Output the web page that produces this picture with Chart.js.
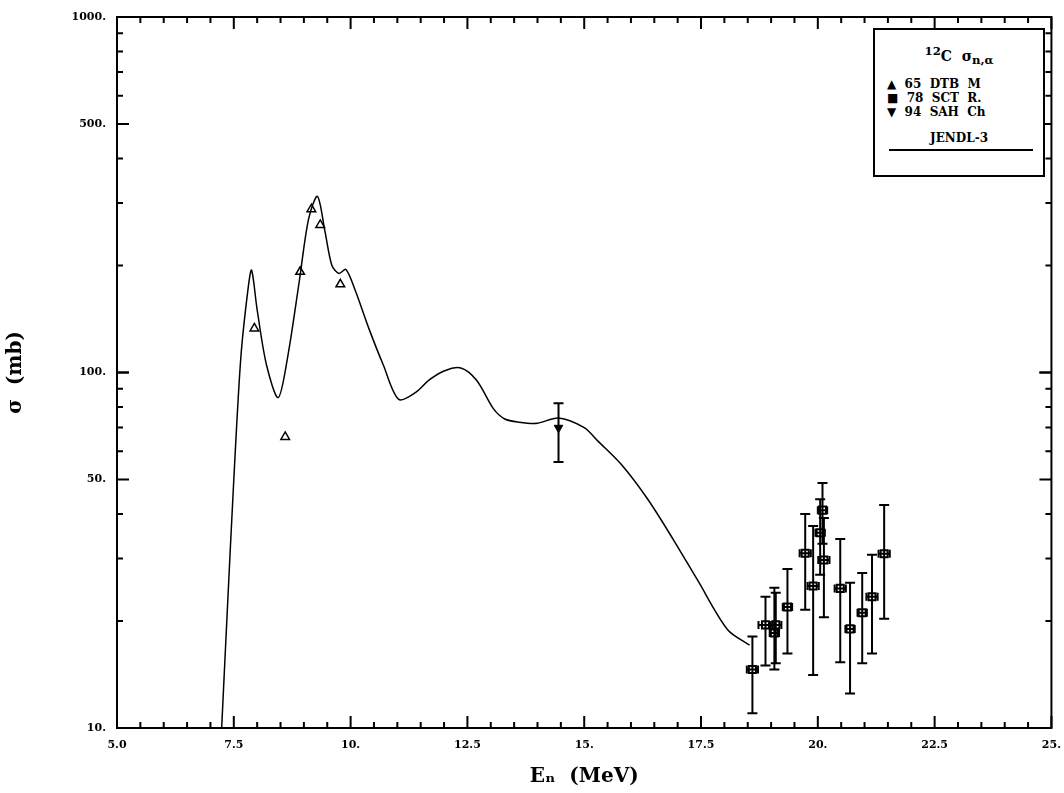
<!DOCTYPE html>
<html lang="en">
<head>
<meta charset="UTF-8">
<title>12C (n,a) cross section</title>
<script src="https://cdn.jsdelivr.net/npm/chart.js"></script>
<style>
  body { margin: 0; background: #fff; }
  .wrap { position: relative; width: 1064px; height: 793px; }
  .legend {
    position: absolute; left: 873px; top: 28px; width: 168px; height: 145px;
    border: 2px solid #000; background: #fff; font-family: "DejaVu Serif", serif;
    font-size: 12px; font-weight: bold; color: #000;
  }
  .legend .ttl { text-align: center; margin-top: 14px; font-size: 14px; }
  .legend .row { margin-left: 12px; line-height: 14px; white-space: pre; }
  .legend .jendl { text-align: center; margin-top: 12px; }
  .legend .line { margin: 4px 10px 0 14px; border-top: 2px solid #000; }
</style>
</head>
<body>
<div class="wrap">
  <canvas id="c" width="1064" height="793"></canvas>
  <div class="legend">
    <div class="ttl"><sup>12</sup>C &nbsp;σ<sub>n,α</sub></div>
    <div class="row" style="margin-top:10px">▲  65  DTB  M</div>
    <div class="row">■  78  SCT  R.</div>
    <div class="row">▼  94  SAH  Ch</div>
    <div class="jendl">JENDL-3</div>
    <div class="line"></div>
  </div>
</div>
<script>
// JENDL-3 evaluated curve
const curveE = [7.24, 7.35, 7.5, 7.65, 7.8, 7.88, 8.0, 8.2, 8.45, 8.65, 8.9, 9.1, 9.29, 9.45, 9.6, 9.75, 9.9, 10.1, 10.4, 10.7, 11.03, 11.4, 11.67, 12.0, 12.36, 12.7, 13.06, 13.3, 13.6, 14.0, 14.45, 15.0, 15.3, 15.8, 16.36, 16.9, 17.43, 18.07, 18.54];
const curveS = [10, 20, 50, 110, 170, 194, 150, 105, 85, 110, 180, 270, 313, 250, 200, 190, 195, 170, 132, 105, 84, 88, 95, 101, 103, 95, 79, 74, 72.5, 72, 74.5, 70, 64, 55, 44, 34, 26, 18.9, 17.1];

// 65 DTB M (triangles up)
const dtbE = [7.94, 8.6, 8.92, 9.16, 9.35, 9.78];
const dtbS = [133, 65.9, 192, 288, 260, 177];

// 94 SAH Ch (triangle down)
const sahE = [14.45];
const sahS = [69.9];
const sahLo = [56];
const sahHi = [82];

// 78 SCT R. (squares)
const sctE = [18.6, 18.88, 19.07, 19.1, 19.35, 19.73, 19.9, 20.1, 20.05, 20.13, 20.48, 20.69, 20.95, 21.16, 21.42];
const sctS = [14.6, 19.5, 18.5, 19.5, 21.9, 31, 25.1, 41, 35.4, 29.7, 24.7, 19.0, 21.1, 23.4, 30.9];
const sctLo = [11, 15, 14.6, 15.2, 16.2, 21.5, 14.1, 33, 27, 20.5, 15.3, 12.5, 15.2, 16.2, 20.3];
const sctHi = [18.1, 23.4, 24.8, 24, 28, 40, 37, 48.9, 44, 39, 34, 25.6, 27.3, 30.7, 42.4];
const sctDE = [0.12, 0.15, 0.1, 0.12, 0.1, 0.12, 0.12, 0.1, 0.1, 0.12, 0.12, 0.1, 0.1, 0.12, 0.12];

const xTicks = [5, 7.5, 10, 12.5, 15, 17.5, 20, 22.5, 25];
const xTickLabels = ['5.0', '7.5', '10.', '12.5', '15.', '17.5', '20.', '22.5', '25.'];
const yTicks = [10, 50, 100, 500, 1000];
const yTickLabels = ['10.', '50.', '100.', '500.', '1000.'];

const pts = (xs, ys) => xs.map((x, i) => ({ x: x, y: ys[i] }));

// error bars and frame ticks
const extras = {
  id: 'extras',
  afterDatasetsDraw(chart) {
    const ctx = chart.ctx, xs = chart.scales.x, ys = chart.scales.y, a = chart.chartArea;
    ctx.save();
    ctx.strokeStyle = '#000';
    ctx.lineWidth = 2;
    function bar(x, y, lo, hi, dx) {
      const px = xs.getPixelForValue(x);
      const py = ys.getPixelForValue(y);
      const p1 = ys.getPixelForValue(lo), p2 = ys.getPixelForValue(hi);
      ctx.beginPath();
      ctx.moveTo(px, p1); ctx.lineTo(px, p2);
      ctx.moveTo(px - 5, p1); ctx.lineTo(px + 5, p1);
      ctx.moveTo(px - 5, p2); ctx.lineTo(px + 5, p2);
      if (dx) {
        const l = xs.getPixelForValue(x - dx), r = xs.getPixelForValue(x + dx);
        ctx.moveTo(l, py); ctx.lineTo(r, py);
        ctx.moveTo(l, py - 4); ctx.lineTo(l, py + 4);
        ctx.moveTo(r, py - 4); ctx.lineTo(r, py + 4);
      }
      ctx.stroke();
    }
    sctE.forEach((e, i) => bar(e, sctS[i], sctLo[i], sctHi[i], sctDE[i]));
    sahE.forEach((e, i) => bar(e, sahS[i], sahLo[i], sahHi[i], 0));

    // frame
    ctx.lineWidth = 2;
    ctx.strokeRect(a.left, a.top, a.right - a.left, a.bottom - a.top);
    // x ticks, major and minor
    for (let v = 5; v <= 25.001; v += 0.5) {
      const major = Math.abs(v / 2.5 - Math.round(v / 2.5)) < 1e-6;
      const len = major ? 12 : 6;
      const px = xs.getPixelForValue(v);
      ctx.beginPath();
      ctx.moveTo(px, a.bottom); ctx.lineTo(px, a.bottom - len);
      ctx.moveTo(px, a.top); ctx.lineTo(px, a.top + len);
      ctx.stroke();
    }
    // y ticks
    const yv = [];
    [10, 100].forEach(d => { for (let k = 1; k <= 10; k++) yv.push(d * k); });
    yv.forEach(v => {
      if (v < 10 || v > 1000) return;
      const major = yTicks.includes(v);
      const len = major ? 12 : 6;
      const py = ys.getPixelForValue(v);
      ctx.beginPath();
      ctx.moveTo(a.left, py); ctx.lineTo(a.left + len, py);
      ctx.moveTo(a.right, py); ctx.lineTo(a.right - len, py);
      ctx.stroke();
    });
    ctx.restore();
  }
};

new Chart(document.getElementById('c'), {
  type: 'scatter',
  data: {
    datasets: [
      { label: 'JENDL-3', type: 'line', data: pts(curveE, curveS), borderColor: '#000', borderWidth: 1.5,
        pointRadius: 0, tension: 0.3, fill: false },
      { label: '65 DTB M', data: pts(dtbE, dtbS), pointStyle: 'triangle', pointRadius: 5,
        backgroundColor: '#fff', borderColor: '#000', borderWidth: 1.5 },
      { label: '94 SAH Ch', data: pts(sahE, sahS), pointStyle: 'triangle', rotation: 180, pointRadius: 5,
        backgroundColor: '#000', borderColor: '#000', borderWidth: 1 },
      { label: '78 SCT R.', data: pts(sctE, sctS), pointStyle: 'rect', pointRadius: 5,
        backgroundColor: '#fff', borderColor: '#000', borderWidth: 2 }
    ]
  },
  options: {
    responsive: false,
    animation: false,
    layout: { padding: { top: 17, right: 9, left: 0, bottom: 0 } },
    plugins: { legend: { display: false }, tooltip: { enabled: false } },
    scales: {
      x: {
        type: 'linear', min: 5, max: 25,
        afterBuildTicks: s => { s.ticks = xTicks.map(v => ({ value: v })); },
        afterFit: s => { s.height = 65; },
        ticks: {
          callback: (v) => xTickLabels[xTicks.indexOf(v)],
          color: '#000', font: { family: 'DejaVu Serif', size: 11, weight: 'bold' }, maxRotation: 0
        },
        grid: { display: false },
        border: { display: false },
        title: { display: true, text: 'Eₙ  (MeV)', color: '#000', font: { family: 'DejaVu Serif', size: 20, weight: 'bold' } }
      },
      y: {
        type: 'logarithmic', min: 10, max: 1000,
        afterBuildTicks: s => { s.ticks = yTicks.map(v => ({ value: v })); },
        afterFit: s => { s.width = 117; },
        ticks: {
          callback: (v) => yTickLabels[yTicks.indexOf(v)],
          color: '#000', font: { family: 'DejaVu Serif', size: 11, weight: 'bold' }
        },
        grid: { display: false },
        border: { display: false },
        title: { display: true, text: 'σ  (mb)', color: '#000', font: { family: 'DejaVu Serif', size: 20, weight: 'bold' } }
      }
    }
  },
  plugins: [extras]
});
</script>
</body>
</html>
